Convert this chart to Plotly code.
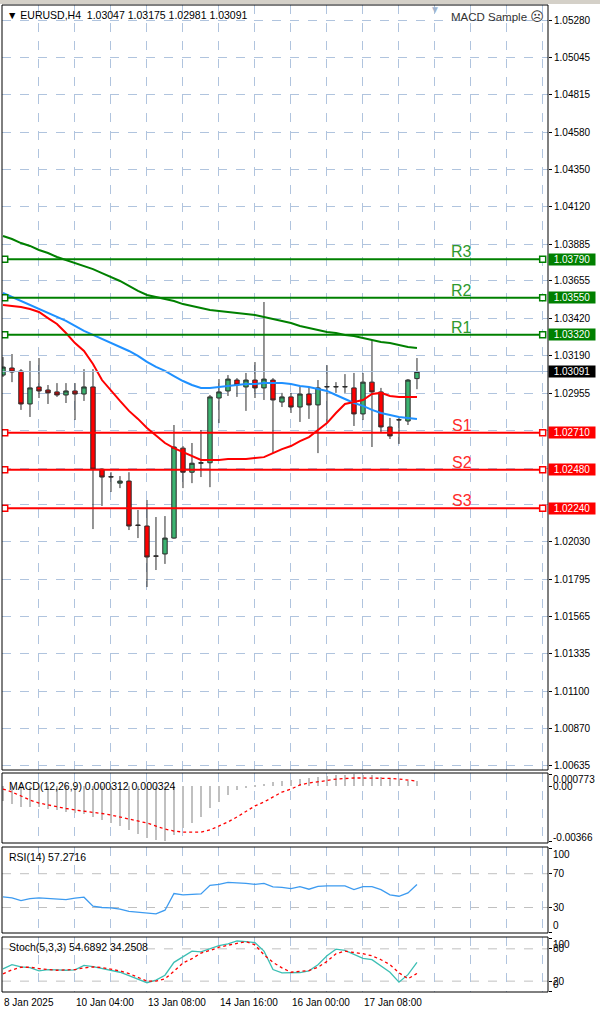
import plotly.graph_objects as go

# ---------------- data ----------------
date_ticks = [0, 8, 16, 24, 32, 40]
date_labels = ["8 Jan 2025", "10 Jan 04:00", "13 Jan 08:00", "14 Jan 16:00", "16 Jan 00:00", "17 Jan 08:00"]

opens = [1.03069, 1.03113, 1.03094, 1.02889, 1.02995, 1.02976, 1.02964, 1.02945, 1.02970, 1.02951,
         1.02995, 1.02483, 1.02434, 1.02396, 1.02409, 1.02135, 1.02129, 1.01943, 1.01955, 1.02054,
         1.02614, 1.02464, 1.02520, 1.02523, 1.02926, 1.02970, 1.03038, 1.02995, 1.03038, 1.02989,
         1.03038, 1.02901, 1.02933, 1.02870, 1.02951, 1.02883, 1.02995, 1.02995, 1.02995, 1.02989,
         1.02827, 1.03025, 1.02964, 1.02746, 1.02789, 1.02783, 1.03047]
highs = [1.03181, 1.03200, 1.03106, 1.03157, 1.03175, 1.03007, 1.03019, 1.03019, 1.03019, 1.03106,
         1.03106, 1.02489, 1.02464, 1.02440, 1.02464, 1.02229, 1.02291, 1.02185, 1.02191, 1.02758,
         1.02627, 1.02646, 1.02727, 1.02945, 1.03044, 1.03069, 1.03050, 1.03082, 1.03150, 1.03524,
         1.03050, 1.02958, 1.02958, 1.02995, 1.02995, 1.03038, 1.03131, 1.03025, 1.03075, 1.03082,
         1.03082, 1.03287, 1.02989, 1.02802, 1.02802, 1.03044, 1.03175]
lows = [1.03057, 1.03025, 1.02852, 1.02808, 1.02926, 1.02889, 1.02933, 1.02895, 1.02789, 1.02908,
        1.02110, 1.02254, 1.02341, 1.02365, 1.02104, 1.02054, 1.01749, 1.01855, 1.01893, 1.02050,
        1.02365, 1.02396, 1.02434, 1.02371, 1.02770, 1.02939, 1.02933, 1.02846, 1.02926, 1.02914,
        1.02583, 1.02870, 1.02833, 1.02777, 1.02796, 1.02583, 1.02777, 1.02958, 1.02958, 1.02752,
        1.02789, 1.02621, 1.02714, 1.02671, 1.02640, 1.02758, 1.02981]
closes = [1.03119, 1.03088, 1.02889, 1.02989, 1.02970, 1.02958, 1.02945, 1.02970, 1.02951, 1.02995,
          1.02483, 1.02434, 1.02436, 1.02409, 1.02129, 1.02133, 1.01936, 1.01941, 1.02054, 1.02621,
          1.02464, 1.02520, 1.02523, 1.02933, 1.02964, 1.03044, 1.03007, 1.03038, 1.02989, 1.03044,
          1.02914, 1.02933, 1.02870, 1.02951, 1.02883, 1.02989, 1.02997, 1.02997, 1.02997, 1.02827,
          1.03025, 1.02964, 1.02746, 1.02690, 1.02791, 1.03038, 1.03091]

ma_green = [1.03935, 1.03916, 1.03891, 1.03873, 1.03848, 1.03829, 1.03804, 1.03785, 1.03767, 1.03748,
            1.03729, 1.03704, 1.03680, 1.03655, 1.03624, 1.03593, 1.03568, 1.03555, 1.03543, 1.03530,
            1.03511, 1.03499, 1.03487, 1.03474, 1.03468, 1.03462, 1.03455, 1.03449, 1.03443, 1.03431,
            1.03418, 1.03406, 1.03393, 1.03375, 1.03362, 1.03350, 1.03337, 1.03331, 1.03319, 1.03312,
            1.03300, 1.03287, 1.03275, 1.03269, 1.03256, 1.03244, 1.03238]
ma_blue = [1.03580, 1.03555, 1.03530, 1.03505, 1.03480, 1.03455, 1.03431, 1.03406, 1.03375, 1.03344,
           1.03319, 1.03294, 1.03269, 1.03244, 1.03219, 1.03188, 1.03151, 1.03120, 1.03095, 1.03063,
           1.03032, 1.03007, 1.02989, 1.02989, 1.02995, 1.03001, 1.03007, 1.03013, 1.03013, 1.03019,
           1.03019, 1.03019, 1.03013, 1.03001, 1.02995, 1.02982, 1.02970, 1.02945, 1.02920, 1.02895,
           1.02877, 1.02852, 1.02833, 1.02821, 1.02808, 1.02802, 1.02796]
ma_red = [1.03505, 1.03499, 1.03493, 1.03480, 1.03462, 1.03424, 1.03387, 1.03331, 1.03268, 1.03219,
          1.03138, 1.03038, 1.02970, 1.02908, 1.02846, 1.02796, 1.02739, 1.02690, 1.02646, 1.02614,
          1.02590, 1.02565, 1.02540, 1.02540, 1.02540, 1.02546, 1.02546, 1.02546, 1.02552, 1.02558,
          1.02583, 1.02608, 1.02627, 1.02658, 1.02683, 1.02727, 1.02770, 1.02833, 1.02889, 1.02901,
          1.02914, 1.02951, 1.02958, 1.02939, 1.02933, 1.02933, 1.02933]

res_names = ["R1", "R2", "R3"]
res_levels = [1.03320, 1.03550, 1.03790]
sup_names = ["S1", "S2", "S3"]
sup_levels = [1.02710, 1.02480, 1.02240]

price_ticks = [1.05280, 1.05045, 1.04815, 1.04580, 1.04350, 1.04120, 1.03885, 1.03655, 1.03420,
               1.03190, 1.02955, 1.02725, 1.02490, 1.02260, 1.02030, 1.01795, 1.01565, 1.01335,
               1.01100, 1.00870, 1.00635]
hidden_ticks = [1.02725, 1.02490, 1.02260]

macd_hist = [-0.00097, -0.00119, -0.00137, -0.00137, -0.00139, -0.00152, -0.00159, -0.00172, -0.00179, -0.00185,
             -0.00205, -0.00225, -0.00245, -0.00265, -0.00291, -0.00318, -0.00344, -0.00357, -0.00366, -0.00324,
             -0.00278, -0.00245, -0.00205, -0.00146, -0.00106, -0.00060, -0.00026, -0.00007, 0.00007, 0.00015,
             0.00025, 0.00035, 0.00042, 0.00048, 0.00055, 0.00060, 0.00065, 0.00070, 0.00073, 0.000773,
             0.00075, 0.00070, 0.00062, 0.00050, 0.00040, 0.00033, 0.000312]
macd_signal = [-0.00020, -0.00040, -0.00066, -0.00093, -0.00113, -0.00126, -0.00139, -0.00149, -0.00159, -0.00166,
               -0.00172, -0.00182, -0.00192, -0.00205, -0.00218, -0.00232, -0.00245, -0.00265, -0.00285, -0.00298,
               -0.00305, -0.00305, -0.00305, -0.00291, -0.00265, -0.00238, -0.00205, -0.00166, -0.00132, -0.00106,
               -0.00073, -0.00040, -0.00020, 0.00007, 0.00020, 0.00026, 0.00036, 0.00046, 0.00050, 0.00053,
               0.00053, 0.00053, 0.00053, 0.00050, 0.00046, 0.00040, 0.000324]
macd_ticks = [0.000773, 0.0, -0.00366]
macd_tick_labels = ["0.000773", "0.00", "-0.00366"]

rsi = [42.6, 41.4, 38.2, 40.6, 41.4, 41.0, 40.2, 39.4, 41.0, 42.2,
       31.5, 30.0, 29.6, 28.0, 25.3, 24.5, 23.7, 22.5, 26.8, 46.5,
       44.9, 45.7, 46.1, 56.2, 57.4, 59.8, 59.4, 58.6, 57.4, 58.6,
       54.3, 53.9, 52.4, 54.7, 51.6, 55.1, 55.5, 55.9, 55.5, 51.2,
       54.7, 54.7, 51.2, 44.9, 43.3, 47.3, 57.2716]
rsi_levels = [70, 30]
rsi_ticks = [100, 70, 30, 0]

stoch_main = [42.7, 50.6, 46.4, 45.2, 39.0, 41.5, 40.9, 40.2, 40.9, 49.4,
              47.0, 43.3, 40.2, 36.5, 30.4, 23.1, 17.1, 22.0, 31.0, 54.9,
              65.9, 75.7, 74.4, 80.6, 86.1, 89.2, 94.6, 93.4, 91.6, 75.7,
              41.5, 35.4, 35.4, 36.0, 39.0, 50.6, 67.1, 79.4, 77.0, 69.0,
              62.3, 59.8, 48.8, 36.5, 18.0, 32.0, 54.6892]
stoch_signal = [33.6, 40.9, 45.8, 45.8, 43.3, 41.5, 40.2, 40.9, 41.5, 44.6,
                46.4, 45.2, 42.7, 39.0, 34.1, 27.4, 20.0, 20.0, 24.4, 38.3,
                53.8, 61.7, 72.1, 77.0, 83.0, 86.7, 90.4, 93.4, 87.3, 69.0,
                54.9, 44.6, 36.5, 37.7, 39.6, 45.8, 56.7, 70.9, 75.7, 73.2,
                70.9, 67.1, 59.8, 50.6, 35.4, 24.4, 34.2508]
stoch_levels = [80, 20]
stoch_ticks = [100, 80, 20, 0]

# ---------------- layout helpers ----------------
W, H = 600, 1015
FONT = "Liberation Sans, Arial, DejaVu Sans, sans-serif"


def fx(px):
    return px / W


def fy(py):
    return 1 - py / H


X_L, X_R = 2, 548
panels = {"main": (5, 770), "macd": (773, 843), "rsi": (847, 933), "stoch": (937, 992)}
X_RANGE = [-0.11, 60.56]
MAIN_RANGE = [1.0060975, 1.053734]
MACD_RANGE = [-0.003773, 0.000861]
RSI_RANGE = [-0.2, 101.6]
STOCH_RANGE = [-0.2, 102.0]

GRID = "#b0c4de"
GREEN = "#008000"
RED = "#ff0000"
idx = list(range(len(opens)))
last_close = closes[-1]

fig = go.Figure()

# moving averages
fig.add_trace(go.Scatter(x=idx, y=ma_green, mode="lines", line=dict(color=GREEN, width=2), xaxis="x", yaxis="y"))
fig.add_trace(go.Scatter(x=idx, y=ma_blue, mode="lines", line=dict(color="#1e90ff", width=2), xaxis="x", yaxis="y"))
fig.add_trace(go.Scatter(x=idx, y=ma_red, mode="lines", line=dict(color=RED, width=2), xaxis="x", yaxis="y"))

# current price line
fig.add_trace(go.Scatter(x=X_RANGE, y=[last_close, last_close], mode="lines",
                         line=dict(color="#a9c0dc", width=1), xaxis="x", yaxis="y"))

# support / resistance lines
for lv in res_levels:
    fig.add_trace(go.Scatter(x=[X_RANGE[0], 59.97], y=[lv, lv], mode="lines",
                             line=dict(color=GREEN, width=2), xaxis="x", yaxis="y"))
    fig.add_trace(go.Scatter(x=[0.19, 59.97], y=[lv, lv], mode="markers",
                             marker=dict(symbol="square", size=6, color="white", line=dict(color=GREEN, width=1.5)),
                             xaxis="x", yaxis="y"))
for lv in sup_levels:
    fig.add_trace(go.Scatter(x=[X_RANGE[0], 59.97], y=[lv, lv], mode="lines",
                             line=dict(color=RED, width=2), xaxis="x", yaxis="y"))
    fig.add_trace(go.Scatter(x=[0.19, 59.97], y=[lv, lv], mode="markers",
                             marker=dict(symbol="square", size=6, color="white", line=dict(color=RED, width=1.5)),
                             xaxis="x", yaxis="y"))

# candles
fig.add_trace(go.Candlestick(
    x=idx, open=opens, high=highs, low=lows, close=closes,
    increasing=dict(line=dict(color="#2b2b2b", width=1), fillcolor="#3cb371"),
    decreasing=dict(line=dict(color="#2b2b2b", width=1), fillcolor="#ff0000"),
    whiskerwidth=0, xaxis="x", yaxis="y"))

# MACD
fig.add_trace(go.Bar(x=idx, y=macd_hist, width=0.14, marker=dict(color="#c0c0c0", line=dict(width=0)),
                     xaxis="x2", yaxis="y2"))
fig.add_trace(go.Scatter(x=idx, y=macd_signal, mode="lines", line=dict(color=RED, width=1.3, dash="dot"),
                         xaxis="x2", yaxis="y2"))

# RSI
fig.add_trace(go.Scatter(x=idx, y=rsi, mode="lines", line=dict(color="#3d9bf0", width=1.3),
                         xaxis="x3", yaxis="y3"))

# Stochastic
fig.add_trace(go.Scatter(x=idx, y=stoch_main, mode="lines", line=dict(color="#3cbfb4", width=1.3),
                         xaxis="x4", yaxis="y4"))
fig.add_trace(go.Scatter(x=idx, y=stoch_signal, mode="lines", line=dict(color=RED, width=1.3, dash="dot"),
                         xaxis="x4", yaxis="y4"))

xdom = [fx(X_L), fx(X_R)]
xcommon = dict(domain=xdom, range=X_RANGE, showticklabels=False, ticks="", tickmode="linear", tick0=0, dtick=4,
               showgrid=True, gridcolor=GRID, griddash="dash", gridwidth=1, zeroline=False, showline=False,
               fixedrange=True)


def ydom(name):
    t, b = panels[name]
    return [fy(b), fy(t)]


shapes = []
annotations = []

# top window strip
shapes.append(dict(type="rect", xref="paper", yref="paper", x0=0, x1=1, y0=fy(4), y1=1,
                   fillcolor="#d4d0c8", line=dict(width=0), layer="below"))
# panel borders
for name, (t, b) in panels.items():
    shapes.append(dict(type="rect", xref="paper", yref="paper", x0=fx(X_L), x1=fx(X_R), y0=fy(b), y1=fy(t),
                       line=dict(color="black", width=1), fillcolor="rgba(0,0,0,0)"))
# RSI / stoch levels
for lv in rsi_levels:
    shapes.append(dict(type="line", xref="paper", yref="y3", x0=fx(X_L), x1=fx(X_R), y0=lv, y1=lv,
                       line=dict(color="#c0c0c0", width=1, dash="dash"), layer="below"))
for lv in stoch_levels:
    shapes.append(dict(type="line", xref="paper", yref="y4", x0=fx(X_L), x1=fx(X_R), y0=lv, y1=lv,
                       line=dict(color="#c0c0c0", width=1, dash="dash"), layer="below"))

txt = dict(family=FONT, size=10.5, color="black")
annotations.append(dict(xref="paper", yref="paper", x=fx(5), y=fy(15), xanchor="left", yanchor="middle",
                        text="\u25bc\u00a0EURUSD,H4\u00a0\u00a01.03047 1.03175 1.02981 1.03091", showarrow=False, font=txt))
annotations.append(dict(xref="paper", yref="paper", x=fx(546), y=fy(16), xanchor="right", yanchor="middle",
                        text="MACD Sample\u00a0<span style='font-family:DejaVu Sans;font-size:13px'>\u2639</span>",
                        showarrow=False, font=dict(family=FONT, size=11.5, color="#333333")))
annotations.append(dict(xref="paper", yref="paper", x=fx(435), y=fy(9), xanchor="center", yanchor="middle",
                        text="\u25bc", showarrow=False, font=dict(family=FONT, size=10, color="#9fb4cf")))
annotations.append(dict(xref="paper", yref="paper", x=fx(7), y=fy(786), xanchor="left", yanchor="middle",
                        text="MACD(12,26,9) 0.000312 0.000324", showarrow=False, font=txt))
annotations.append(dict(xref="paper", yref="paper", x=fx(7), y=fy(857), xanchor="left", yanchor="middle",
                        text="RSI(14) 57.2716", showarrow=False, font=txt))
annotations.append(dict(xref="paper", yref="paper", x=fx(7), y=fy(947), xanchor="left", yanchor="middle",
                        text="Stoch(5,3,3) 54.6892 34.2508", showarrow=False, font=txt))

# date labels
for ti, lab in zip(date_ticks, date_labels):
    annotations.append(dict(xref="x4", yref="paper", x=ti - 0.1, y=fy(1002), xanchor="left", yanchor="middle",
                            text=lab, showarrow=False, font=dict(family=FONT, size=10, color="black")))

# S/R text labels and price tags
for nm, lv in zip(res_names, res_levels):
    annotations.append(dict(xref="x", yref="y", x=51, y=lv, xanchor="center", yanchor="bottom", yshift=-3,
                            text=nm, showarrow=False, font=dict(family=FONT, size=16, color="#2e9a2e")))
    annotations.append(dict(xref="paper", yref="y", x=fx(X_R), y=lv, xanchor="left", yanchor="middle",
                            text=f"{lv:.5f}", showarrow=False, bgcolor=GREEN, width=46, height=11, borderpad=0,
                            font=dict(family=FONT, size=10, color="white")))
for nm, lv in zip(sup_names, sup_levels):
    annotations.append(dict(xref="x", yref="y", x=51, y=lv, xanchor="center", yanchor="bottom", yshift=-3,
                            text=nm, showarrow=False, font=dict(family=FONT, size=16, color="#ff2a2a")))
    annotations.append(dict(xref="paper", yref="y", x=fx(X_R), y=lv, xanchor="left", yanchor="middle",
                            text=f"{lv:.5f}", showarrow=False, bgcolor=RED, width=46, height=11, borderpad=0,
                            font=dict(family=FONT, size=10, color="white")))
annotations.append(dict(xref="paper", yref="y", x=fx(X_R), y=last_close, xanchor="left", yanchor="middle",
                        text=f"{last_close:.5f}", showarrow=False, bgcolor="black", width=46, height=11, borderpad=0,
                        font=dict(family=FONT, size=10, color="white")))

# sub panel labels
lab_font = dict(family=FONT, size=10, color="black")
for v, lab, sh in zip(macd_ticks, macd_tick_labels, [-5, 0, 4]):
    annotations.append(dict(xref="paper", yref="y2", x=fx(551), y=v, xanchor="left", yanchor="middle", yshift=sh,
                            text=lab, showarrow=False, font=lab_font))
for v, sh in zip(rsi_ticks, [-6, 0, 0, 7]):
    annotations.append(dict(xref="paper", yref="y3", x=fx(551), y=v, xanchor="left", yanchor="middle", yshift=sh,
                            text=str(v), showarrow=False, font=lab_font))
for v, sh in zip(stoch_ticks, [-6, 0, 0, 7]):
    annotations.append(dict(xref="paper", yref="y4", x=fx(551), y=v, xanchor="left", yanchor="middle", yshift=sh,
                            text=str(v), showarrow=False, font=lab_font))

main_text = ["" if t in hidden_ticks else f"{t:.5f}" for t in price_ticks]
ysub = dict(side="right", showticklabels=False, ticks="outside", ticklen=3, tickcolor="black", showgrid=False,
            zeroline=False, showline=False, fixedrange=True)

fig.update_layout(
    width=W, height=H, margin=dict(l=0, r=0, t=0, b=0),
    paper_bgcolor="white", plot_bgcolor="white", showlegend=False,
    font=dict(family=FONT, size=10, color="black"),
    xaxis=dict(**xcommon, anchor="y", rangeslider=dict(visible=False)),
    xaxis2=dict(**xcommon, anchor="y2", matches="x"),
    xaxis3=dict(**xcommon, anchor="y3", matches="x"),
    xaxis4=dict(**xcommon, anchor="y4", matches="x"),
    yaxis=dict(domain=ydom("main"), range=MAIN_RANGE, anchor="x", side="right", tickmode="array",
               tickvals=price_ticks, ticktext=main_text, ticks="outside", ticklen=3, tickcolor="black",
               showgrid=True, gridcolor=GRID, griddash="dash", gridwidth=1, zeroline=False, showline=False,
               tickfont=dict(family=FONT, size=10, color="black"), fixedrange=True),
    yaxis2=dict(domain=ydom("macd"), range=MACD_RANGE, anchor="x2", tickvals=macd_ticks, **ysub),
    yaxis3=dict(domain=ydom("rsi"), range=RSI_RANGE, anchor="x3", tickvals=rsi_ticks, **ysub),
    yaxis4=dict(domain=ydom("stoch"), range=STOCH_RANGE, anchor="x4", tickvals=stoch_ticks, **ysub),
    shapes=shapes, annotations=annotations, bargap=0,
)

fig.write_html("out.html", config={"displayModeBar": False},
               post_script="document.body.style.margin='0';document.body.style.overflow='hidden';")
